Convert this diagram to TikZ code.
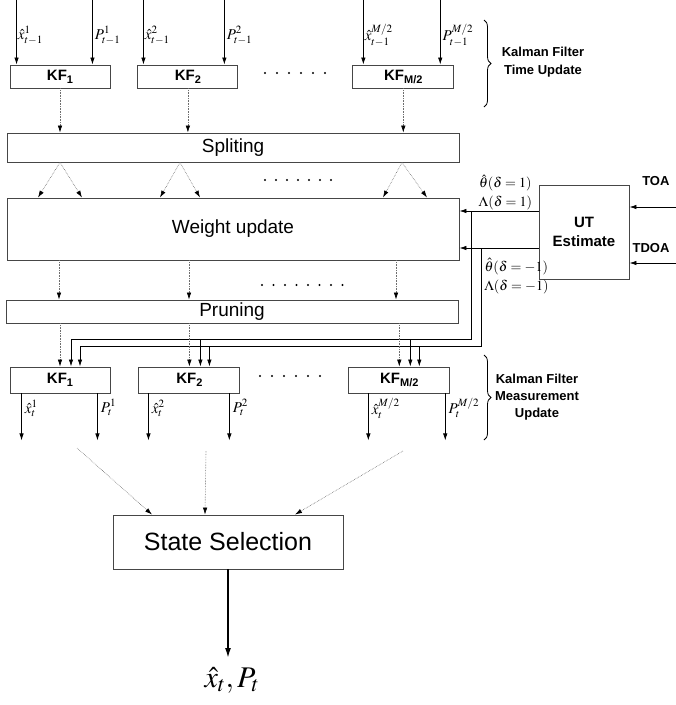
\documentclass[tikz,border=0pt]{standalone}
\usepackage{mathptmx}
\usepackage[no-math]{fontspec}
\setmainfont{Liberation Sans}
\usetikzlibrary{
	positioning,
	arrows.meta,
	calc,
	decorations.pathreplacing
}
\definecolor{BoxLine}{RGB}{70,70,70}
\definecolor{DotLine}{RGB}{110,110,110}
\newcommand{\pxfont}[2]{\fontsize{#1}{#2}\selectfont}
\newcommand{\kfsub}[1]{\raisebox{-3pt}{\pxfont{11}{13}#1}}

\begin{document}
\begin{tikzpicture}[
				x=1pt,
				y=-1pt,
				every node/.style={
					font=\pxfont{15}{18}
				},
				box/.style={
					draw=BoxLine,
					line width=0.9pt,
					fill=white,
					inner sep=0pt
				},
				kfbox/.style={
					box,
					minimum width=100pt,
					minimum height=23pt,
					font=\pxfont{15}{18}\bfseries
				},
				widebox/.style={
					box,
					minimum width=452pt,
					font=\pxfont{19}{22}
				},
				arr/.style={
					-{Latex[length=7pt,width=4.5pt]},
					line width=0.8pt
				},
				dotarr/.style={
					-{Latex[length=7pt,width=4.5pt,black]},
					densely dotted,
					DotLine,
					line width=0.6pt
				},
				sidetext/.style={
					font=\pxfont{13}{18}\bfseries,
					align=center
				},
				utlabel/.style={
					font=\pxfont{14}{20},
					inner sep=1pt
				}
				]
				
				\useasboundingbox (0,0) rectangle (676,705);
				
				% time update
				\node[kfbox] (kfa) at (60,76.5) {KF\kfsub{1}};
				\node[kfbox, right=27pt of kfa] (kfb) {KF\kfsub{2}};
				\node[kfbox, right=114pt of kfb, minimum width=101pt] (kfc) {KF\kfsub{M/2}};
				
				\foreach \k/\a/\b/\i in {kfa/7/18/1, kfb/6/14/2, kfc/11/14/{M/2}} {
					\draw[arr] ($(\k.north west)+(\a,-65)$) -- node[right, pos=.55, inner sep=1pt] {$\hat{x}^{\i}_{t-1}$} ([xshift=\a pt]\k.north west);
					\draw[arr] ($(\k.north east)+(-\b,-65)$) -- node[right, pos=.55, inner sep=2pt] {$P^{\i}_{t-1}$} ([xshift=-\b pt]\k.north east);
				}
				
				\foreach \x in {265,277,...,325}
					\fill (\x,73) circle (1.2pt);
				
				\draw[decorate, decoration={brace, amplitude=7pt}, line width=0.8pt] (484,20) -- (484,107);
				\node[sidetext] (tulbl) at (543,62) {Kalman Filter\\Time Update};
				
				% splitting, weights, pruning
				\node[widebox, minimum height=29pt] (split) at (233,147.5) {Spliting};
				\node[widebox, minimum height=62pt] (weight) at (233,229) {Weight update};
				\node[widebox, minimum height=23pt] (prune) at (232,311.5) {Pruning};
				
				\foreach \k in {kfa,kfb,kfc}
					\draw[dotarr] (\k.south) -- (\k.south |- split.north);
				
				\foreach \x/\l/\r in {60/38/82, 180/160/200, 402/383/427} {
					\draw[dotarr] (split.south -| \x,0) -- (weight.north -| \l,0);
					\draw[dotarr] (split.south -| \x,0) -- (weight.north -| \r,0);
				}
				\foreach \x in {265,276,...,331}
					\fill (\x,180) circle (1.2pt);
				
				\foreach \x in {59,189,396}
					\draw[dotarr] (weight.south -| \x,0) -- (prune.north -| \x,0);
				\foreach \x in {262,273.5,...,343}
					\fill (\x,285) circle (1.2pt);
				
				% UT estimate
				\node[
				box,
				minimum width=90pt,
				minimum height=94pt,
				font=\pxfont{15}{19}\bfseries,
				align=center
				] (ut) at (584,232) {UT\\Estimate};
				
				\coordinate (toa) at (676,207);
				\coordinate (tdoa) at (676,263);
				\draw[arr] (toa) -- (toa -| ut.east);
				\draw[arr] (tdoa) -- (tdoa -| ut.east);
				\node[sidetext, anchor=east] (toalbl) at (673,181) {TOA};
				\node[sidetext, anchor=east] (tdoalbl) at (673,248) {TDOA};
				
				\coordinate (ua) at ([yshift=21pt]ut.west);
				\coordinate (ub) at ([yshift=-16pt]ut.west);
				\draw[arr] (ua) -- node[utlabel, above, pos=.42] (lamua) {$\Lambda(\delta=1)$} (ua -| weight.east);
				\node[utlabel, above=2pt of lamua] (thua) {$\hat{\theta}(\delta=1)$};
				\draw[arr] (ub) -- node[utlabel, below right, pos=.7, yshift=-9pt] (thub) {$\hat{\theta}(\delta=-1)$} (ub -| weight.east);
				\node[utlabel, below=3pt of thub.south west, anchor=north west] (lamub) {$\Lambda(\delta=-1)$};
				
				% measurement update
				\node[kfbox, minimum height=26pt] (kfd) at (60,380) {KF\kfsub{1}};
				\node[kfbox, minimum height=26pt, right=28pt of kfd, minimum width=101pt] (kfe) {KF\kfsub{2}};
				\node[kfbox, minimum height=26pt, right=108pt of kfe, minimum width=101pt] (kff) {KF\kfsub{M/2}};
				
				\coordinate (ta) at (471,339);
				\coordinate (tb) at (481,346);
				\draw[line width=0.8pt] (ua -| ta) -- (ta) -- ([xshift=11pt]kfd.north |- ta);
				\draw[line width=0.8pt] (ub -| tb) -- (tb) -- ([xshift=20pt]kfd.north |- tb);
				
				\foreach \k in {kfd,kfe,kff} {
					\draw[dotarr] (\k.north |- prune.south) -- (\k.north);
					\draw[arr] ([xshift=11pt]\k.north |- ta) -- ([xshift=11pt]\k.north);
					\draw[arr] ([xshift=20pt]\k.north |- tb) -- ([xshift=20pt]\k.north);
				}
				
				\foreach \k/\a/\b/\i in {kfd/12/13/1, kfe/10/11/2, kff/20/5/{M/2}} {
					\draw[arr] ([xshift=\a pt]\k.south west) -- node[right, pos=.32, inner sep=3pt] {$\hat{x}^{\i}_{t}$} ++(0,47);
					\draw[arr] ([xshift=-\b pt]\k.south east) -- node[right, pos=.3, inner sep=3pt] {$P^{\i}_{t}$} ++(0,47);
				}
				
				\foreach \x in {260,272,...,320}
					\fill (\x,376) circle (1.2pt);
				
				\draw[decorate, decoration={brace, amplitude=7pt}, line width=0.8pt] (484,355) -- (484,440);
				\node[sidetext, font=\pxfont{13}{17}\bfseries] (mulbl) at (537,397) {Kalman Filter\\Measurement\\Update};
				
				% state selection
				\node[
				box,
				minimum width=230pt,
				minimum height=54pt,
				font=\pxfont{25}{28}
				] (state) at (228,542) {State Selection};
				
				\coordinate (sa) at (77,448);
				\coordinate (sb) at (206,451);
				\coordinate (sc) at (403,451);
				\draw[dotarr] (sa) -- ([xshift=-76pt]state.north);
				\draw[dotarr] (sb) -- ([xshift=-23pt]state.north);
				\draw[dotarr] (sc) -- ([xshift=67pt]state.north);
				
				\node[
				font=\pxfont{30}{34},
				inner sep=0pt,
				anchor=north
				] (out) at (232,667) {$\hat{x}_t, P_t$};
				
				\draw[
				-{Latex[length=10pt,width=6pt]},
				line width=1.6pt,
				shorten >=9pt
				] (state.south) -- (state.south |- out.north);
				
			\end{tikzpicture}
\end{document}
